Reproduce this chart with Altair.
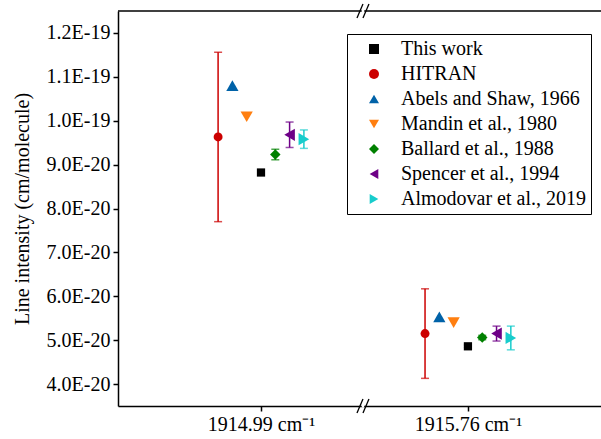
import altair as alt
import pandas as pd

# ---- data ----
groups = ["1914.99 cm⁻¹", "1915.76 cm⁻¹"]
series = ["This work", "HITRAN", "Abels and Shaw, 1966", "Mandin et al., 1980",
          "Ballard et al., 1988", "Spencer et al., 1994", "Almodovar et al., 2019"]
slots = [0, -3, -2, -1, 1, 2, 3]          # dodge order inside each group
val_1914 = [8.82e-20, 9.63e-20, 10.80e-20, 10.09e-20, 9.23e-20, 9.68e-20, 9.58e-20]
err_1914 = [0.05e-20, 1.93e-20, 0.0, 0.0, 0.12e-20, 0.29e-20, 0.21e-20]
val_1915 = [4.86e-20, 5.15e-20, 5.53e-20, 5.40e-20, 5.06e-20, 5.15e-20, 5.05e-20]
err_1915 = [0.03e-20, 1.02e-20, 0.0, 0.0, 0.05e-20, 0.17e-20, 0.27e-20]
y_ticks = [4e-20, 5e-20, 6e-20, 7e-20, 8e-20, 9e-20, 1.0e-19, 1.1e-19, 1.2e-19]

colors = ["#000000", "#cc0000", "#0062a8", "#ff7f10", "#008000", "#6e0087", "#18cccc"]
shapes = ["square", "circle", "triangle-up", "triangle-down", "diamond",
          "triangle-left", "triangle-right"]
marker_sizes = [68, 80, 150, 150, 110, 150, 150]

rows = []
for gi, (vals, errs) in enumerate([(val_1914, err_1914), (val_1915, err_1915)]):
    for s, sl, v, e, ms in zip(series, slots, vals, errs, marker_sizes):
        rows.append({"series": s, "group": gi, "slot": sl, "value": v, "err": e,
                     "msize": ms})
df = pd.DataFrame(rows)

W, H = 483, 395
FONT = "Liberation Serif"
STEP = 0.0691
YDOM = [3.5e-20, 1.25e-19]
BRK_A = [0.4638, 0.4928]   # break-mark slash bottoms (axis units)
BRK_B = [0.4928, 0.5217]   # break-mark slash tops

label_expr = "[" + ",".join("'%s'" % g for g in groups) + "][datum.value]"

xscale = alt.Scale(domain=[-0.691, 1.643], nice=False, zero=False)
xenc = alt.X("xpos:Q", scale=xscale,
             axis=alt.Axis(values=[0, 1], labelExpr=label_expr, title=None, grid=False,
                           tickSize=5, labelPadding=3))
yenc = alt.Y("value:Q",
             scale=alt.Scale(domain=YDOM, nice=False, zero=False),
             axis=alt.Axis(values=y_ticks, labelExpr="upper(format(datum.value, '.1e'))",
                           title="Line intensity (cm/molecule)", grid=False,
                           tickSize=5, labelPadding=3, titlePadding=14))

base = alt.Chart(df).transform_calculate(
    xpos=f"datum.group + datum.slot * {STEP}",
    lo="datum.value - datum.err",
    hi="datum.value + datum.err",
)

legend = alt.Legend(title=None, orient="none", legendX=229, legendY=23,
                    strokeColor="black", fillColor="white", padding=5,
                    labelFont=FONT, labelFontSize=20, labelColor="black",
                    symbolSize=100, symbolStrokeWidth=0, symbolOffset=12,
                    labelOffset=17, rowPadding=5, labelLimit=400,
                    symbolOpacity=1)

cscale = alt.Scale(domain=series, range=colors)
sscale = alt.Scale(domain=series, range=shapes)
color_enc = alt.Color("series:N", scale=cscale, legend=legend, sort=series)

eb = base.transform_filter("datum.err > 0")
bars = eb.mark_rule(strokeWidth=1.5).encode(
    x=xenc, y=alt.Y("lo:Q", scale=alt.Scale(domain=YDOM, nice=False, zero=False)),
    y2="hi:Q", color=color_enc)
caps_lo = eb.mark_tick(orient="horizontal", size=8, thickness=1.5).encode(
    x=xenc, y=alt.Y("lo:Q"), color=color_enc)
caps_hi = eb.mark_tick(orient="horizontal", size=8, thickness=1.5).encode(
    x=xenc, y=alt.Y("hi:Q"), color=color_enc)

points = base.mark_point(filled=True, opacity=1).encode(
    x=xenc, y=yenc,
    color=color_enc,
    shape=alt.Shape("series:N", scale=sscale, legend=legend, sort=series),
    size=alt.Size("msize:Q", scale=None, legend=None),
)

frame_df = pd.DataFrame({"k": [0]})
top_line = alt.Chart(frame_df).mark_rule(color="black", strokeWidth=1.5).encode(
    x=alt.value(0), x2=alt.value(W), y=alt.value(0))

brk_df = pd.DataFrame({"a": BRK_A, "b": BRK_B})
gap_top = alt.Chart(frame_df).mark_rule(color="white", strokeWidth=3).encode(
    x=alt.X(datum=BRK_A[1] - 0.006, scale=xscale), x2=alt.X2(datum=BRK_A[1] + 0.006),
    y=alt.value(0))
gap_bot = alt.Chart(frame_df).mark_rule(color="white", strokeWidth=3).encode(
    x=alt.X(datum=BRK_A[1] - 0.006, scale=xscale), x2=alt.X2(datum=BRK_A[1] + 0.006),
    y=alt.value(H))
slash_top = alt.Chart(brk_df).mark_rule(color="black", strokeWidth=1.3).encode(
    x=alt.X("a:Q", scale=xscale), x2="b:Q", y=alt.value(7), y2=alt.value(-7))
slash_bot = alt.Chart(brk_df).mark_rule(color="black", strokeWidth=1.3).encode(
    x=alt.X("a:Q", scale=xscale), x2="b:Q", y=alt.value(H + 7), y2=alt.value(H - 7))

chart = alt.layer(bars, caps_lo, caps_hi, points, top_line,
                  gap_top, gap_bot, slash_top, slash_bot).properties(
    width=W, height=H,
    autosize=alt.AutoSizeParams(type="none"),
    padding={"left": 118, "top": 11, "right": 0, "bottom": 33},
).configure_view(stroke=None).configure_axis(
    domainColor="black", domainWidth=1.5, tickColor="black", tickWidth=1.5,
    labelFont=FONT, labelFontSize=20, labelColor="black",
    titleFont=FONT, titleFontSize=20, titleColor="black", titleFontWeight="normal",
)

chart.save("out.html", embed_options={"renderer": "svg", "actions": False})
